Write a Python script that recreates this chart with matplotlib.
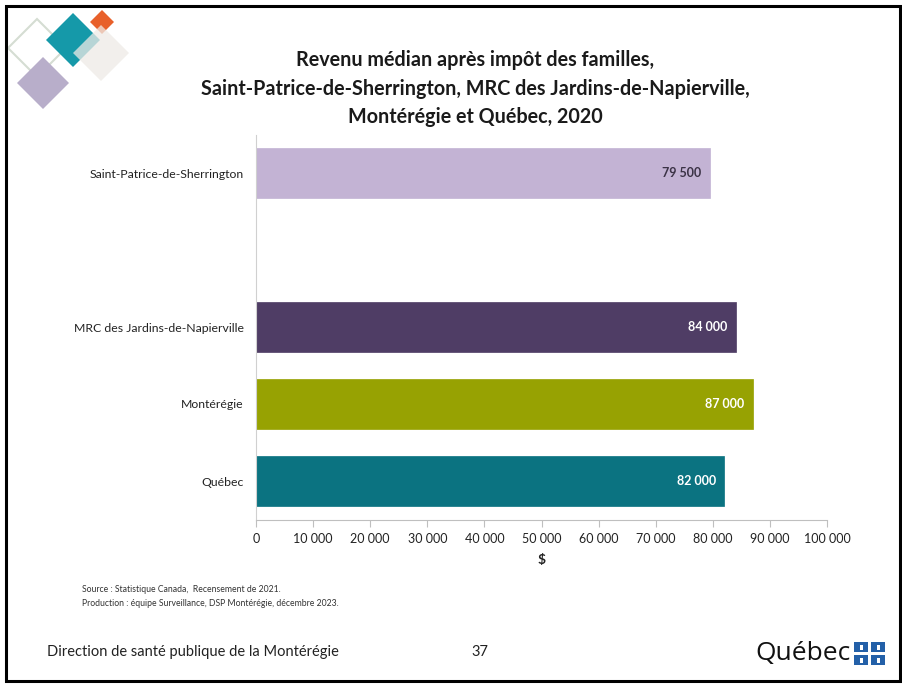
import matplotlib
matplotlib.use("Agg")
import matplotlib.pyplot as plt
from matplotlib.patches import Polygon, Rectangle
from matplotlib.ticker import FuncFormatter

categories = ["Québec", "Montérégie", "MRC des Jardins-de-Napierville", "", "Saint-Patrice-de-Sherrington"]
values = [82000, 87000, 84000, None, 79500]
value_labels = ["82 000", "87 000", "84 000", "", "79 500"]
colors = ["#0B7381", "#97A202", "#4F3D65", "white", "#C3B3D4"]
label_colors = ["white", "white", "white", "white", "#3B3346"]
xticks = [0, 10000, 20000, 30000, 40000, 50000, 60000, 70000, 80000, 90000, 100000]

plt.rcParams['font.family'] = ['Lato', 'DejaVu Sans']

W, H = 902, 684
fig = plt.figure(figsize=(W / 100, H / 100), dpi=100)

# Overlay for decorations (pixel coordinates)
ov = fig.add_axes([0, 0, 1, 1], zorder=0)
ov.set_xlim(0, W)
ov.set_ylim(H, 0)
ov.axis("off")

def diamond(cx, cy, h, **kw):
    return Polygon([(cx, cy - h), (cx + h, cy), (cx, cy + h), (cx - h, cy)], closed=True, **kw)

ov.add_patch(diamond(37, 48, 29, facecolor="none", edgecolor="#D5DDD3", lw=1.5))
ov.add_patch(diamond(43, 83, 26, facecolor="#B8AECA", edgecolor="none"))
ov.add_patch(diamond(73, 40, 27, facecolor="#1599A9", edgecolor="none"))
ov.add_patch(diamond(102, 22, 12, facecolor="#E8602A", edgecolor="none"))
ov.add_patch(diamond(101, 53, 28, facecolor="#EEEAE6", edgecolor="none", alpha=0.75))

# Frame
ov.add_patch(Rectangle((6, 6), W - 8, H - 9, fill=False, edgecolor="black", lw=2.2))

# Title
for yy, line in [(60, "Revenu médian après impôt des familles,"),
                 (89, "Saint-Patrice-de-Sherrington, MRC des Jardins-de-Napierville,"),
                 (117, "Montérégie et Québec, 2020")]:
    ov.text(475, yy, line, ha="center", va="center",
            fontsize=14.2, fontweight="bold", color="#1a1a1a")

# Footers
ov.text(82, 590, "Source : Statistique Canada,  Recensement de 2021.", ha="left", va="center",
        fontsize=6.2, color="#333333")
ov.text(82, 603, "Production : équipe Surveillance, DSP Montérégie, décembre 2023.", ha="left", va="center",
        fontsize=6.2, color="#333333")
ov.text(47, 652, "Direction de santé publique de la Montérégie", ha="left", va="center",
        fontsize=10.5, color="#222222")
ov.text(480, 652, "37", ha="center", va="center", fontsize=10.5, color="#222222")

# Québec logo
ov.text(755, 654, "Québec", ha="left", va="center", fontsize=19, color="#111111",
        family=["Open Sans", "DejaVu Sans"])
for (sx, sy) in [(854, 642), (871, 642), (854, 655), (871, 655)]:
    ov.add_patch(Rectangle((sx, sy), 14, 10, facecolor="#2360A8", edgecolor="none"))
    ov.add_patch(Rectangle((sx + 5.5, sy + 2.5), 3, 5, facecolor="white", edgecolor="none"))

# Main chart
ax = fig.add_axes([256 / W, 1 - 519.5 / H, (827 - 256) / W, (519.5 - 134.5) / H], zorder=1)
ax.patch.set_alpha(0)
ypos = list(range(len(categories)))
for y, v, c, lab, lc in zip(ypos, values, colors, value_labels, label_colors):
    if v is None:
        continue
    ax.barh(y, v, height=0.66, color=c, edgecolor=c, lw=0.5)
    ax.annotate(lab, xy=(v, y), xytext=(-6, 0), textcoords="offset points",
                ha="right", va="center", fontsize=9, fontweight="bold", color=lc)

ax.set_xlim(0, 100000)
ax.set_ylim(-0.5, 4.5)
ax.set_xticks(xticks)
ax.xaxis.set_major_formatter(FuncFormatter(lambda x, p: f"{int(x):,}".replace(",", " ")))
ax.set_yticks(ypos)
ax.set_yticklabels(categories, fontsize=8.8, color="#222222")
ax.tick_params(axis="y", length=0, pad=9)
ax.tick_params(axis="x", length=5, color="#BFBFBF", labelsize=9, labelcolor="#222222", pad=5)
for s in ["top", "right"]:
    ax.spines[s].set_visible(False)
ax.spines["left"].set_color("#D0D0D0")
ax.spines["bottom"].set_color("#BFBFBF")
ax.set_xlabel("$", fontsize=10, fontweight="bold", color="#222222", labelpad=6)

fig.savefig("out.png", dpi=100)
